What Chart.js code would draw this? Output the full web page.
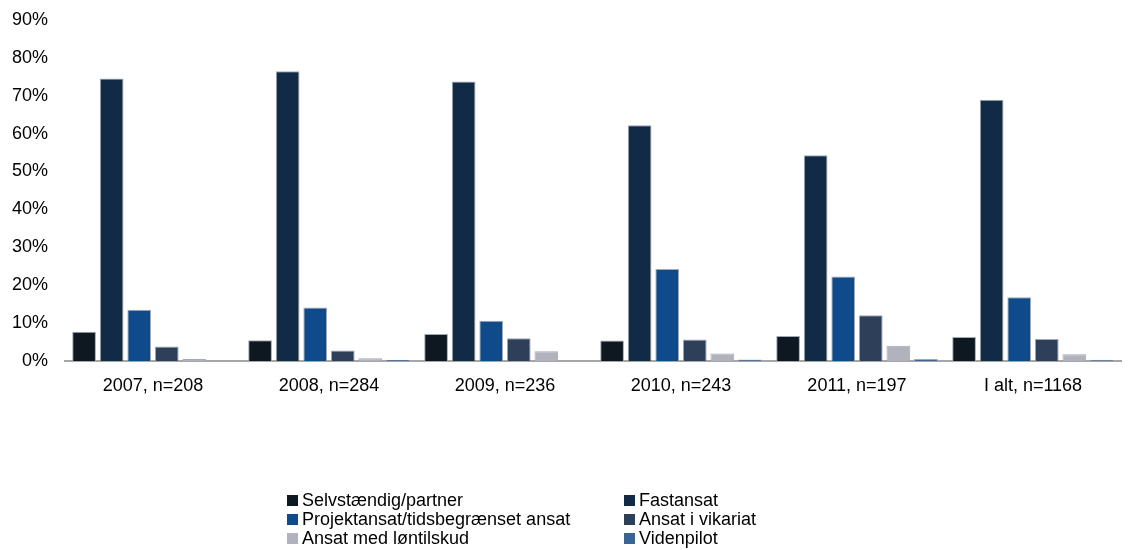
<!DOCTYPE html>
<html>
<head>
<meta charset="utf-8">
<script src="https://cdn.jsdelivr.net/npm/chart.js@4"></script>
<style>
  html, body { margin: 0; padding: 0; background: #fff; }
  #wrap { position: relative; width: 1134px; height: 550px; }
  #c { position: absolute; left: 0; top: 0; }
  .lg { position: absolute; font-family: "Liberation Sans", Arial, sans-serif; font-size: 18px; color: #000; line-height: 19px; white-space: nowrap; }
  .lg .box { display: inline-block; width: 11px; height: 11px; margin-right: 4px; vertical-align: 0px; }
</style>
</head>
<body>
<div id="wrap">
  <canvas id="c" width="1134" height="550"></canvas>
  <div id="legend"></div>
</div>
<script>
const categories = ["2007, n=208", "2008, n=284", "2009, n=236", "2010, n=243", "2011, n=197", "I alt, n=1168"];
const seriesNames = ["Selvstændig/partner", "Fastansat", "Projektansat/tidsbegrænset ansat", "Ansat i vikariat", "Ansat med løntilskud", "Videnpilot"];
const selvstaendig = [7.7, 5.5, 7.1, 5.4, 6.6, 6.3];
const fastansat = [74.5, 76.4, 73.7, 62.2, 54.3, 68.9];
const projektansat = [13.5, 14.1, 10.6, 24.3, 22.3, 16.8];
const vikariat = [3.8, 2.8, 6.0, 5.7, 12.1, 5.8];
const loentilskud = [0.5, 0.7, 2.6, 2.0, 4.0, 1.8];
const videnpilot = [0, 0.35, 0, 0.4, 0.5, 0.3];
const yTicks = [0, 10, 20, 30, 40, 50, 60, 70, 80, 90];

const colors = ["#0d1821", "#112b47", "#0f4a8a", "#2e3f5a", "#b1b3bc", "#3b6496"];
const values = [selvstaendig, fastansat, projektansat, vikariat, loentilskud, videnpilot];

const datasets = seriesNames.map((name, i) => ({
  label: name,
  data: values[i],
  backgroundColor: colors[i],
  borderColor: "rgba(150,160,175,0.9)",
  borderWidth: 1,
  categoryPercentage: 0.94,
  barPercentage: 0.86
}));

const FONT = { family: '"Liberation Sans", Arial, sans-serif', size: 18 };

new Chart(document.getElementById("c"), {
  type: "bar",
  data: { labels: categories, datasets },
  options: {
    responsive: false,
    animation: false,
    layout: { padding: { top: 14, right: 13, left: 0, bottom: 0 } },
    plugins: { legend: { display: false }, tooltip: { enabled: false } },
    scales: {
      x: {
        grid: { display: false },
        border: { display: true, color: "#a6a6a6", width: 2 },
        ticks: { color: "#000", font: FONT, padding: 6, maxRotation: 0 },
        afterFit: (s) => { s.height = 550 - 361; }
      },
      y: {
        min: 0, max: 90,
        afterBuildTicks: (s) => { s.ticks = yTicks.map(v => ({ value: v })); },
        grid: { display: false },
        border: { display: false },
        ticks: { color: "#000", font: FONT, padding: 9, callback: (v) => v + "%" },
        afterFit: (s) => { s.width = 65; }
      }
    }
  }
});

// HTML legend in two columns
const legend = document.getElementById("legend");
const colX = [287, 624];
const rowY = [491, 510, 529];
seriesNames.forEach((name, i) => {
  const d = document.createElement("div");
  d.className = "lg";
  d.style.left = colX[i % 2] + "px";
  d.style.top = rowY[Math.floor(i / 2)] + "px";
  const b = document.createElement("span");
  b.className = "box";
  b.style.background = colors[i];
  d.appendChild(b);
  d.appendChild(document.createTextNode(name));
  legend.appendChild(d);
});
</script>
</body>
</html>
